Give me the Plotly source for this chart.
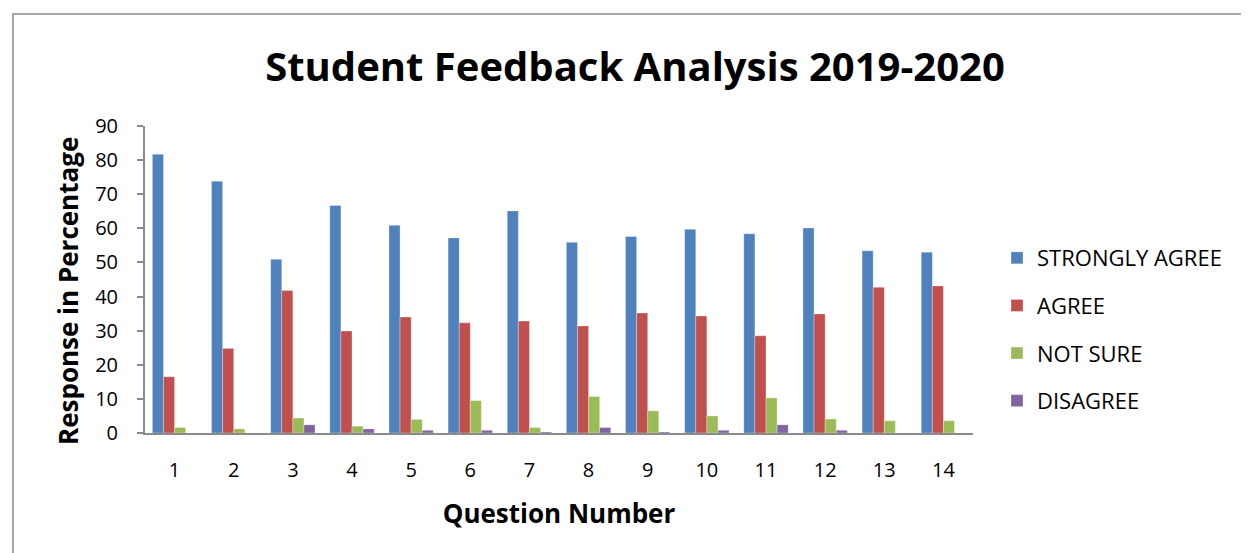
import plotly.graph_objects as go

questions = [str(i) for i in range(1, 15)]
strongly_agree = [81.7, 73.8, 50.9, 66.7, 60.9, 57.2, 65.1, 55.9, 57.6, 59.7, 58.4, 60.1, 53.4, 53.0]
agree = [16.5, 24.8, 41.8, 29.9, 34.0, 32.3, 32.8, 31.4, 35.2, 34.3, 28.5, 34.9, 42.7, 43.1]
not_sure = [1.6, 1.2, 4.4, 2.0, 4.0, 9.5, 1.6, 10.7, 6.5, 5.0, 10.3, 4.1, 3.6, 3.6]
disagree = [0.0, 0.0, 2.4, 1.2, 0.8, 0.8, 0.3, 1.6, 0.3, 0.8, 2.4, 0.8, 0.0, 0.0]
y_ticks = list(range(0, 91, 10))

series = [
    ("STRONGLY AGREE", strongly_agree, "#4F81BD"),
    ("AGREE", agree, "#C0504D"),
    ("NOT SURE", not_sure, "#9BBB59"),
    ("DISAGREE", disagree, "#8064A2"),
]

fig = go.Figure()
for i, (name, vals, color) in enumerate(series):
    fig.add_trace(
        go.Bar(
            x=questions,
            y=vals,
            name=name,
            marker_color=color,
            marker_line=dict(color="rgba(255,255,255,0.5)", width=0.6),
            legendgroup=f"g{i}",
        )
    )

# page body has an 8px margin, so the figure is shifted up/left by 8px
fig.update_layout(
    width=1249,
    height=553,
    paper_bgcolor="white",
    plot_bgcolor="white",
    barmode="group",
    bargap=0.25,
    bargroupgap=0,
    font=dict(family="Open Sans, Calibri, sans-serif", color="#000000", size=20),
    title=dict(
        text="<b>Student Feedback Analysis 2019-2020</b>",
        x=0.502,
        xanchor="center",
        y=0.893,
        yanchor="middle",
        font=dict(size=40, family="Open Sans, sans-serif"),
    ),
    margin=dict(l=137, r=284, t=118, b=128),
    legend=dict(
        x=1.029,
        y=0.337,
        xanchor="left",
        yanchor="middle",
        font=dict(size=22),
        tracegroupgap=16,
        traceorder="grouped",
        itemwidth=30,
    ),
    annotations=[
        dict(
            text="<b>Response in Percentage</b>",
            xref="paper",
            yref="paper",
            x=-0.093,
            y=0.4625,
            xanchor="center",
            yanchor="middle",
            textangle=-90,
            showarrow=False,
            font=dict(size=26),
        )
    ],
    shapes=[
        dict(
            type="rect",
            xref="paper",
            yref="paper",
            x0=-0.1594,
            x1=1.4,
            y0=-0.5,
            y1=1.365,
            line=dict(color="#8A8A8A", width=1.5),
            fillcolor="rgba(0,0,0,0)",
            layer="below",
        )
    ],
)

fig.update_xaxes(
    showline=True,
    linecolor="#8A8A8A",
    linewidth=2,
    ticks="",
    ticklabelstandoff=18,
    title=dict(text="<b>Question Number</b>", font=dict(size=26), standoff=23),
)
fig.update_yaxes(
    range=[0, 90],
    tickvals=y_ticks,
    showgrid=False,
    zeroline=False,
    showline=True,
    linecolor="#8A8A8A",
    linewidth=2,
    ticks="outside",
    ticklen=6,
    tickcolor="#8A8A8A",
    tickwidth=2,
    ticklabelstandoff=15,
)

fig.write_html("out.html")
